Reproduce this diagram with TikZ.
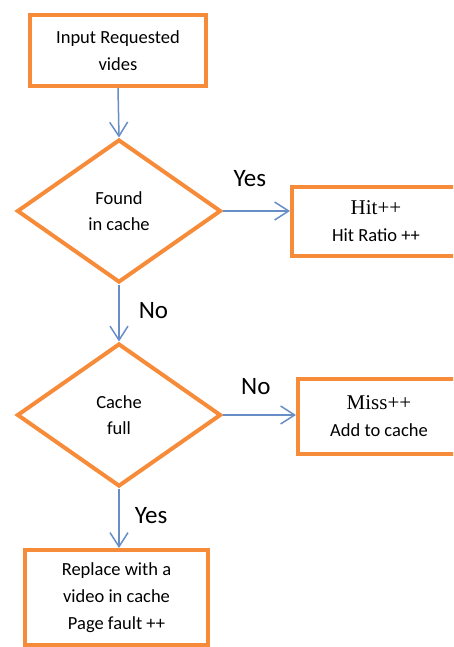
\documentclass[tikz,border=0pt]{standalone}
\usepackage{fontspec}
\setmainfont{Carlito}
\newfontfamily\serifrm{Liberation Serif}
\usetikzlibrary{shapes.geometric,arrows.meta}
\definecolor{boxorange}{RGB}{246,140,58}
\definecolor{flowblue}{RGB}{104,142,200}

\begin{document}
\begin{tikzpicture}[x=1pt,y=-1pt,
  box/.style={draw=boxorange,line width=4pt,inner sep=0pt,align=center,font=\fontsize{18.5}{27}\selectfont},
  decision/.style={diamond,draw=boxorange,line width=4pt,inner sep=0pt,aspect=1.45,align=center,font=\fontsize{18.5}{26}\selectfont},
  flow/.style={draw=flowblue,line width=1.5pt,-{Straight Barb[length=14pt,width=18pt]}},
  lbl/.style={inner sep=0pt,font=\fontsize{25}{30}\selectfont}]
\clip (0,0) rectangle (453,647);
\node[box,minimum width=176pt,minimum height=71pt] (input) at (118,50.5) {Input Requested\\vides};
\node[decision,minimum width=204pt,minimum height=143pt] (found) at (119,211) {Found\\in cache};
\node[box,minimum width=168pt,minimum height=69pt] (hit) at (376,221.5) {{\serifrm\fontsize{21}{29}\selectfont Hit++}\\Hit Ratio ++};
\node[decision,minimum width=204pt,minimum height=143pt] (full) at (119,415) {Cache\\full};
\node[box,minimum width=162pt,minimum height=75pt] (miss) at (379,416.5) {{\serifrm\fontsize{21}{25}\selectfont Miss++}\\Add to cache};
\node[box,minimum width=183pt,minimum height=95pt] (replace) at (116.5,597.5) {Replace with a\\video in cache\\Page fault ++};
\draw[flow] (input.south) -- (found.north);
\draw[flow] (found.east) -- (found.east -| hit.west) node[lbl,pos=0.4,above=24pt] {Yes};
\draw[flow] (found.south) -- (full.north) node[lbl,pos=0.45,right=19pt] {No};
\draw[flow] (full.east) -- (full.east -| miss.west) node[lbl,pos=0.45,above=20pt] {No};
\draw[flow] (full.south) -- (replace.north -| full.south) node[lbl,pos=0.45,right=15pt] {Yes};
\end{tikzpicture}
\end{document}
